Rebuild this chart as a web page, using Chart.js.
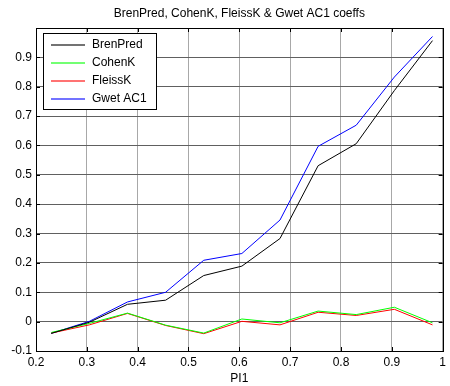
<!DOCTYPE html>
<html lang="en">
<head>
    <meta charset="UTF-8">
    <title>BrenPred, CohenK, FleissK & Gwet AC1 coeffs</title>
    <style>
        body {
            margin: 0;
            padding: 0;
            background-color: #ffffff;
        }
        #chart {
            display: block;
        }
    </style>
    <script src="https://cdn.jsdelivr.net/npm/chart.js"></script>
</head>
<body>
    <canvas id="chart" width="450" height="386"></canvas>
    <script>
        // valores
        const pi1 = [0.23, 0.305, 0.38, 0.455, 0.53, 0.605, 0.68, 0.755, 0.83, 0.905, 0.98];
        const brenPred = [-0.040, -0.002, 0.059, 0.073, 0.157, 0.189, 0.283, 0.531, 0.606, 0.787, 0.957];
        const cohenK = [-0.037, -0.006, 0.029, -0.012, -0.039, 0.009, -0.004, 0.036, 0.024, 0.049, -0.004];
        const fleissK = [-0.039, -0.011, 0.028, -0.013, -0.041, 0.001, -0.011, 0.032, 0.021, 0.042, -0.011];
        const gwetAC1 = [-0.040, 0.001, 0.067, 0.100, 0.209, 0.232, 0.346, 0.597, 0.669, 0.833, 0.971];

        const labels = ['BrenPred', 'CohenK', 'FleissK', 'Gwet AC1'];
        const colors = ['#000000', '#00ff00', '#ff0000', '#0000ff'];

        const xTicks = [0.2, 0.3, 0.4, 0.5, 0.6, 0.7, 0.8, 0.9, 1];
        const yTicks = [-0.1, 0, 0.1, 0.2, 0.3, 0.4, 0.5, 0.6, 0.7, 0.8, 0.9];

        const FONT = 'Liberation Sans, Arial, sans-serif';

        function toPoints(ys) {
            return ys.map((y, i) => ({ x: pi1[i], y: y }));
        }

        function serie(i, ys) {
            return {
                label: labels[i],
                data: toPoints(ys),
                borderColor: colors[i],
                backgroundColor: colors[i],
                borderWidth: 1,
                pointRadius: 0,
                tension: 0,
                fill: false
            };
        }

        // caixa dos eixos + ticks para dentro (estilo MATLAB)
        const boxPlugin = {
            id: 'box',
            afterDatasetsDraw(chart) {
                const { ctx, chartArea: a, scales } = chart;
                ctx.save();
                ctx.setLineDash([]);
                ctx.strokeStyle = '#000';
                ctx.lineWidth = 1;
                ctx.beginPath();
                scales.x.ticks.forEach(t => {
                    const px = Math.round(scales.x.getPixelForValue(t.value)) + 0.5;
                    ctx.moveTo(px, a.bottom);
                    ctx.lineTo(px, a.bottom - 4);
                    ctx.moveTo(px, a.top);
                    ctx.lineTo(px, a.top + 4);
                });
                scales.y.ticks.forEach(t => {
                    const py = Math.round(scales.y.getPixelForValue(t.value)) + 0.5;
                    ctx.moveTo(a.left, py);
                    ctx.lineTo(a.left + 4, py);
                    ctx.moveTo(a.right, py);
                    ctx.lineTo(a.right - 4, py);
                });
                ctx.stroke();
                ctx.strokeRect(Math.round(a.left) + 0.5, Math.round(a.top) + 0.5,
                    Math.round(a.right - a.left), Math.round(a.bottom - a.top));

                // legenda dentro do gráfico
                const lx = Math.round(a.left) + 7;
                const ly = Math.round(a.top) + 5;
                const lw = 113;
                const lh = 76;
                ctx.fillStyle = '#fff';
                ctx.fillRect(lx, ly, lw, lh);
                ctx.strokeRect(lx + 0.5, ly + 0.5, lw, lh);
                ctx.font = '12px ' + FONT;
                ctx.textBaseline = 'middle';
                ctx.textAlign = 'left';
                for (let i = 0; i < labels.length; i++) {
                    const yy = ly + 12 + i * 18;
                    ctx.globalAlpha = 0.55;
                    ctx.fillStyle = colors[i];
                    ctx.fillRect(lx + 8, yy - 1, 34, 2);
                    ctx.globalAlpha = 1;
                    ctx.fillStyle = '#000';
                    ctx.fillText(labels[i], lx + 49, yy);
                }
                ctx.restore();
            }
        };

        new Chart(document.getElementById('chart'), {
            type: 'line',
            data: {
                datasets: [
                    serie(0, brenPred),
                    serie(1, cohenK),
                    serie(2, fleissK),
                    serie(3, gwetAC1)
                ]
            },
            options: {
                responsive: false,
                animation: false,
                devicePixelRatio: 1,
                layout: { padding: { right: 3 } },
                plugins: {
                    legend: { display: false },
                    tooltip: { enabled: false },
                    title: {
                        display: true,
                        fullSize: false,
                        text: 'BrenPred, CohenK, FleissK & Gwet AC1 coeffs',
                        color: '#000',
                        font: { family: FONT, size: 12, weight: 'normal', lineHeight: 1.2 },
                        padding: { top: 6, bottom: 7.6 }
                    }
                },
                scales: {
                    x: {
                        type: 'linear',
                        min: 0.2,
                        max: 1,
                        afterFit(scale) { scale.height = 35; },
                        afterBuildTicks(scale) {
                            scale.ticks = xTicks.map(v => ({ value: v }));
                        },
                        ticks: {
                            color: '#000',
                            padding: 4,
                            maxRotation: 0,
                            font: { family: FONT, size: 12 },
                            callback: v => String(+v.toFixed(1))
                        },
                        grid: { color: '#a8a8a8', drawTicks: false },
                        border: { display: true, color: '#000' },
                        title: {
                            display: true,
                            text: 'PI1',
                            color: '#000',
                            font: { family: FONT, size: 12, lineHeight: 1.2 },
                            padding: { top: 0, bottom: 0 }
                        }
                    },
                    y: {
                        type: 'linear',
                        min: -0.1,
                        max: 1,
                        afterFit(scale) { scale.width = 36; },
                        afterBuildTicks(scale) {
                            scale.ticks = yTicks.concat([1]).map(v => ({ value: v }));
                        },
                        ticks: {
                            color: '#000',
                            padding: 4,
                            font: { family: FONT, size: 12 },
                            callback: v => (v === 1 ? '' : String(+v.toFixed(1)))
                        },
                        grid: { color: '#606060', drawTicks: false },
                        border: { display: true, color: '#000' }
                    }
                }
            },
            plugins: [boxPlugin]
        });
    </script>
</body>
</html>
